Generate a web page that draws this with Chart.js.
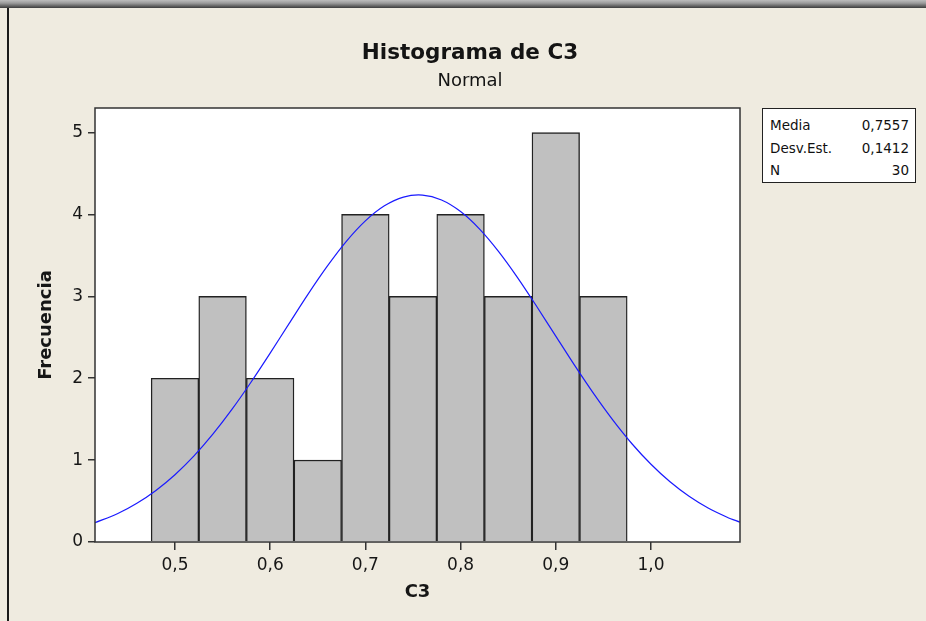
<!DOCTYPE html>
<html><head><meta charset="utf-8">
<script src="https://cdn.jsdelivr.net/npm/chart.js@4.4.1/dist/chart.umd.min.js"></script>
<style>
html,body{margin:0;padding:0;background:#efebe0;}
#wrap{position:relative;width:926px;height:621px;overflow:hidden;background:#efebe0;}
#topbar{position:absolute;left:0;top:0;width:926px;height:8px;background:linear-gradient(#bdbdbd,#9a9a9a 40%,#3c3c3c);}
#leftline{position:absolute;left:7px;top:8px;width:2px;height:613px;background:#1a1a1a;}
#c{position:absolute;left:0;top:0;}
.ttl{position:absolute;left:270px;width:400px;text-align:center;font-family:"DejaVu Sans",sans-serif;color:#141414;white-space:nowrap;}
#t1{top:38px;font-size:21.5px;font-weight:bold;line-height:28px;}
#t2{top:68px;font-size:18px;line-height:24px;}
#stats{position:absolute;left:762px;top:108px;width:139px;height:65px;padding:5px 6px 3px 7px;border:1px solid #222;background:#fff;font:13.5px "DejaVu Sans",sans-serif;color:#111;}
#stats div{display:flex;justify-content:space-between;height:22.5px;line-height:22px;}
</style></head>
<body>
<div id="wrap">
<canvas id="c" width="926" height="621"></canvas>
<div id="topbar"></div>
<div id="leftline"></div>
<div class="ttl" id="t1"></div>
<div class="ttl" id="t2"></div>
<div id="stats"></div>
</div>
<script>
// ---- data ----
const binCenters = [0.50, 0.55, 0.60, 0.65, 0.70, 0.75, 0.80, 0.85, 0.90, 0.95];
const binCounts  = [2, 3, 2, 1, 4, 3, 4, 3, 5, 3];
const curveX = [0.416,0.44,0.46,0.48,0.50,0.52,0.54,0.56,0.58,0.60,0.62,0.64,0.66,0.68,0.70,0.72,0.74,0.76,0.78,0.80,0.82,0.84,0.86,0.88,0.90,0.92,0.94,0.96,0.98,1.00,1.02,1.04,1.06,1.08,1.0935];
const curveY = [0.235,0.348,0.473,0.630,0.822,1.052,1.320,1.622,1.954,2.307,2.670,3.030,3.368,3.671,3.921,4.105,4.212,4.236,4.176,4.035,3.821,3.546,3.226,2.876,2.514,2.153,1.808,1.488,1.200,0.949,0.735,0.558,0.415,0.303,0.242];
const xTickValues = [0.5, 0.6, 0.7, 0.8, 0.9, 1.0];
const xTickLabels = ["0,5", "0,6", "0,7", "0,8", "0,9", "1,0"];
const yTickValues = [0, 1, 2, 3, 4, 5];
const yTickLabels = ["0", "1", "2", "3", "4", "5"];
const titleText = "Histograma de C3";
const subtitleText = "Normal";
const statNames  = ["Media", "Desv.Est.", "N"];
const statValues = ["0,7557", "0,1412", "30"];

document.getElementById('t1').textContent = titleText;
document.getElementById('t2').textContent = subtitleText;
const sb = document.getElementById('stats');
statNames.forEach((n, i) => {
  const r = document.createElement('div');
  const a = document.createElement('span'); a.textContent = n;
  const b = document.createElement('span'); b.textContent = statValues[i];
  r.appendChild(a); r.appendChild(b); sb.appendChild(r);
});

const frame = {
  id: 'frame',
  beforeDraw(chart) {
    const {ctx, chartArea: a} = chart;
    ctx.save(); ctx.fillStyle = '#ffffff';
    ctx.fillRect(a.left, a.top, a.right - a.left, a.bottom - a.top);
    ctx.restore();
  },
  afterDatasetsDraw(chart) {
    const {ctx, chartArea: a} = chart;
    ctx.save(); ctx.strokeStyle = '#333'; ctx.lineWidth = 1.5;
    ctx.strokeRect(a.left, a.top, a.right - a.left, a.bottom - a.top);
    ctx.restore();
  }
};

const txt = '#161616';
new Chart(document.getElementById('c'), {
  type: 'bar',
  data: {
    datasets: [{
      type: 'bar',
      data: binCenters.map((x, i) => ({x, y: binCounts[i]})),
      backgroundColor: '#c0c0c0',
      borderColor: '#222222',
      borderWidth: 1.4,
      barPercentage: 1,
      categoryPercentage: 1,
      order: 2
    }, {
      type: 'line',
      data: curveX.map((x, i) => ({x, y: curveY[i]})),
      borderColor: '#1a1aff',
      borderWidth: 1.2,
      pointRadius: 0,
      tension: 0.3,
      fill: false,
      order: 1
    }]
  },
  options: {
    responsive: false,
    animation: false,
    layout: {padding: {left: 0, right: 186, top: 108, bottom: 0}},
    plugins: {
      legend: {display: false},
      tooltip: {enabled: false},
      title: {display: false},
      subtitle: {display: false}
    },
    scales: {
      x: {
        type: 'linear', min: 0.416, max: 1.0935, offset: false,
        afterFit(s) { s.height = 79; },
        afterBuildTicks(s) { s.ticks = xTickValues.map(v => ({value: v})); },
        grid: {offset: false, drawOnChartArea: false, drawTicks: true, tickLength: 8, color: '#333', lineWidth: 1.5},
        border: {display: false},
        ticks: {color: txt, padding: 5, maxRotation: 0, autoSkip: false,
          font: {family: 'DejaVu Sans', size: 17},
          callback: (v, i) => xTickLabels[i]},
        title: {display: true, text: 'C3', color: txt,
          font: {family: 'DejaVu Sans', size: 18, weight: 'bold', lineHeight: 1.2},
          padding: {top: 0, bottom: 18.2}}
      },
      y: {
        type: 'linear', min: 0, max: 5.3,
        afterFit(s) { s.width = 95; },
        afterBuildTicks(s) { s.ticks = yTickValues.map(v => ({value: v})); },
        grid: {drawOnChartArea: false, drawTicks: true, tickLength: 7, color: '#333', lineWidth: 1.5},
        border: {display: false},
        ticks: {color: txt, padding: 5, autoSkip: false,
          font: {family: 'DejaVu Sans', size: 17},
          callback: (v, i) => yTickLabels[i]},
        title: {display: true, text: 'Frecuencia', color: txt,
          font: {family: 'DejaVu Sans', size: 18, weight: 'bold', lineHeight: 1.2},
          padding: {top: 36, bottom: 0}}
      }
    }
  },
  plugins: [frame]
});
</script>
</body></html>
